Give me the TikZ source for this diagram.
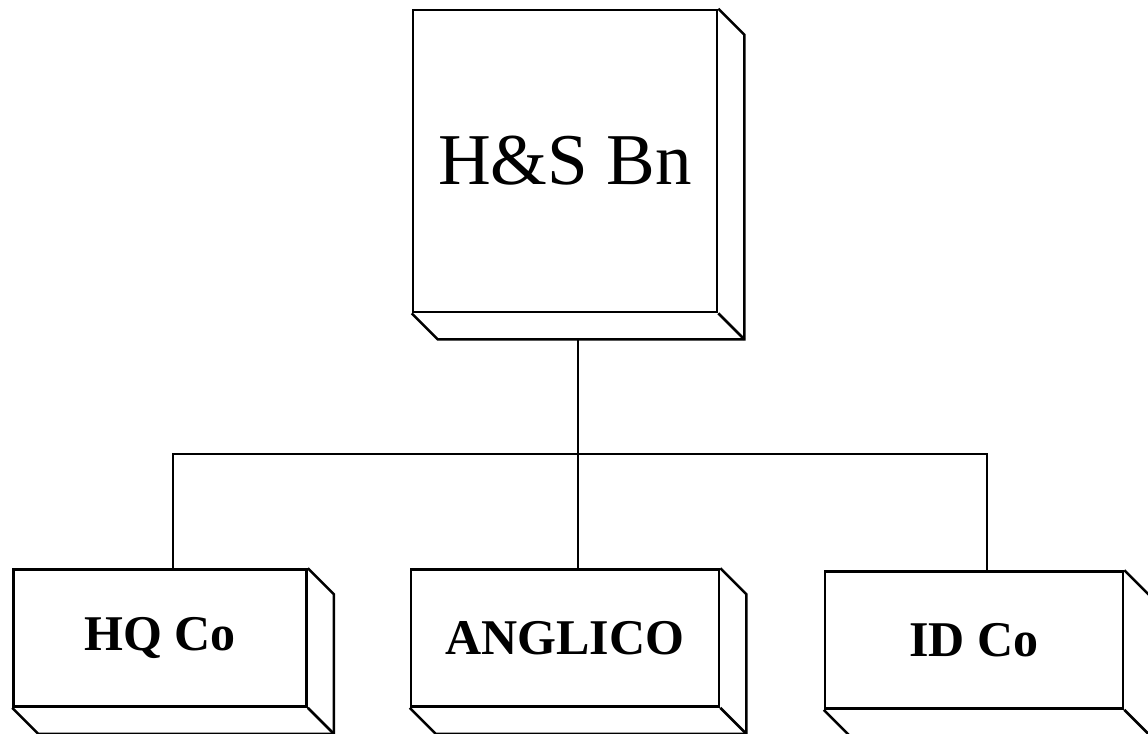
\documentclass[tikz,border=0pt]{standalone}
\usepackage{fontspec}
\setmainfont{Liberation Serif}
\usetikzlibrary{positioning,calc}
\newcommand{\boxd}{13pt}

\begin{document}
\begin{tikzpicture}[
    x=0.5pt, y=-0.5pt,
    edge/.style={line width=1.3pt, line join=miter},
    topunit/.style={draw, edge, rectangle, inner sep=0pt, minimum width=152pt, minimum height=151pt, font=\fontsize{36.5}{40}\selectfont},
    subunit/.style={draw, edge, rectangle, inner sep=0pt, minimum height=68.5pt, font=\fontsize{25}{28}\selectfont\bfseries}
]
\useasboundingbox (0,0) rectangle (1148,734);

%, Battalion ---
\node[topunit] (hsbn) at (565,161) {H\&S Bn};

%, Companies ---
\node[subunit, minimum width=146.5pt] (hqco)    at (160,638) {HQ Co};
\node[subunit, minimum width=154pt]   (anglico) at (565,638) {ANGLICO};
\node[subunit, minimum width=149pt]   (idco)    at (974,640) {ID Co};

% Box depth
\foreach \n in {hsbn,hqco,anglico,idco} {
    \draw[edge] (\n.north east) -- ++(\boxd,-\boxd) -- ($(\n.south east)+(\boxd,-\boxd)$)
        -- ($(\n.south west)+(\boxd,-\boxd)$) -- (\n.south west);
    \draw[edge] (\n.south east) -- ++(\boxd,-\boxd);
}

% Connectors
\coordinate (hsbn-foot) at ($(hsbn.south)+(6.5pt,-\boxd)$);
\coordinate (hqco-top) at ($(hqco.north)+(6.5pt,0)$);
\coordinate (anglico-top) at ($(anglico.north)+(6.5pt,0)$);
\coordinate (idco-top) at ($(idco.north)+(6.5pt,0)$);
\coordinate (bus) at (hsbn-foot |- 0,454);
\draw[edge] (hsbn-foot) -- (anglico-top);
\draw[edge] (hqco-top) |- (bus) -| (idco-top);
\end{tikzpicture}
\end{document}
